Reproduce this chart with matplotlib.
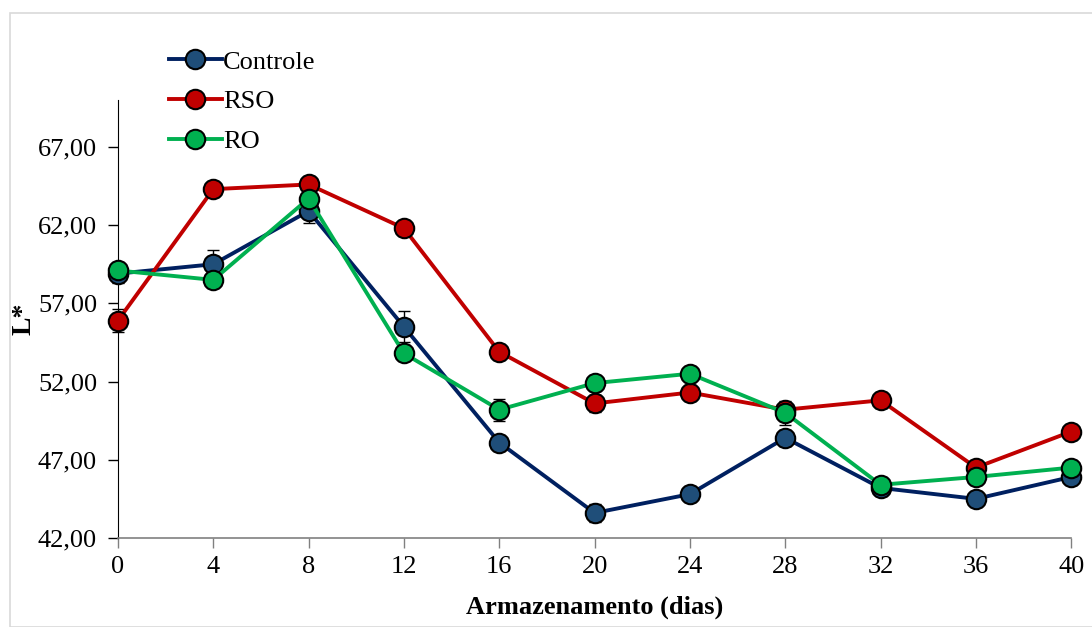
import matplotlib
matplotlib.use('Agg')
import matplotlib.pyplot as plt
from matplotlib.patches import Rectangle
from matplotlib.ticker import FuncFormatter

days = [0, 4, 8, 12, 16, 20, 24, 28, 32, 36, 40]

controle = [58.9, 59.5, 62.9, 55.5, 48.1, 43.6, 44.8, 48.4, 45.2, 44.5, 45.9]
controle_err = [0.6, 0.9, 0.75, 1.0, 0.2, 0.55, 0.2, 0.5, 0.2, 0.45, 0.2]

rso = [55.9, 64.3, 64.6, 61.8, 53.9, 50.6, 51.3, 50.2, 50.8, 46.5, 48.8]
rso_err = [0.75, 0.2, 0.2, 0.2, 0.2, 0.55, 0.2, 0.2, 0.5, 0.2, 0.2]

ro = [59.1, 58.5, 63.7, 53.8, 50.2, 51.9, 52.5, 50.0, 45.4, 45.9, 46.5]
ro_err = [0.2, 0.2, 0.2, 0.2, 0.7, 0.2, 0.2, 0.75, 0.2, 0.2, 0.2]

yticks = [42, 47, 52, 57, 62, 67]

plt.rcParams['font.family'] = ['Liberation Serif', 'DejaVu Serif']

fig = plt.figure(figsize=(10.92, 6.27), dpi=100)
ax = fig.add_axes([0.108, 0.142, 0.873, 0.6985])

series = [
    ('Controle', controle, controle_err, '#002060', '#1F4E79'),
    ('RSO', rso, rso_err, '#C00000', '#C00000'),
    ('RO', ro, ro_err, '#00B050', '#00B050'),
]
handles = []
for name, vals, err, lc, fc in series:
    ax.errorbar(days, vals, yerr=err, fmt='none', ecolor='black',
                elinewidth=1.0, capsize=4, capthick=1.0, zorder=2)
    h, = ax.plot(days, vals, '-o', color=lc, lw=2.8, ms=14,
                 markerfacecolor=fc, markeredgecolor='black', mew=1.5,
                 label=name, zorder=3)
    handles.append(h)

ax.set_xlim(0, 40)
ax.set_ylim(42, 70)
ax.set_xticks(days)
ax.set_yticks(yticks)
ax.yaxis.set_major_formatter(FuncFormatter(lambda v, p: f'{v:.2f}'.replace('.', ',')))

for s in ('top', 'right'):
    ax.spines[s].set_visible(False)
ax.spines['left'].set_color('black')
ax.spines['bottom'].set_color('#808080')
ax.spines['bottom'].set_linewidth(1.2)
ax.tick_params(axis='y', direction='out', length=7, width=1, labelsize=19, pad=8)
ax.tick_params(axis='x', direction='out', length=7, width=1, color='#808080',
               labelsize=19, pad=6)
for ln in ax.lines:
    ln.set_clip_on(False)

ax.set_xlabel('Armazenamento (dias)', fontsize=19, fontweight='bold', labelpad=13)
ax.set_ylabel('L*', fontsize=20, fontweight='bold', labelpad=1)

fig.legend(handles=handles, loc='upper left', bbox_to_anchor=(0.145, 0.937),
           frameon=False, fontsize=19, handlelength=2.0, handletextpad=0.05,
           labelspacing=0.62, borderaxespad=0)

fig.patches.append(Rectangle((10 / 1092, 0), 1.0, 1 - 13 / 627,
                             transform=fig.transFigure, fill=False,
                             edgecolor='#d9d9d9', lw=1.2))

fig.savefig('out.png', dpi=100)
